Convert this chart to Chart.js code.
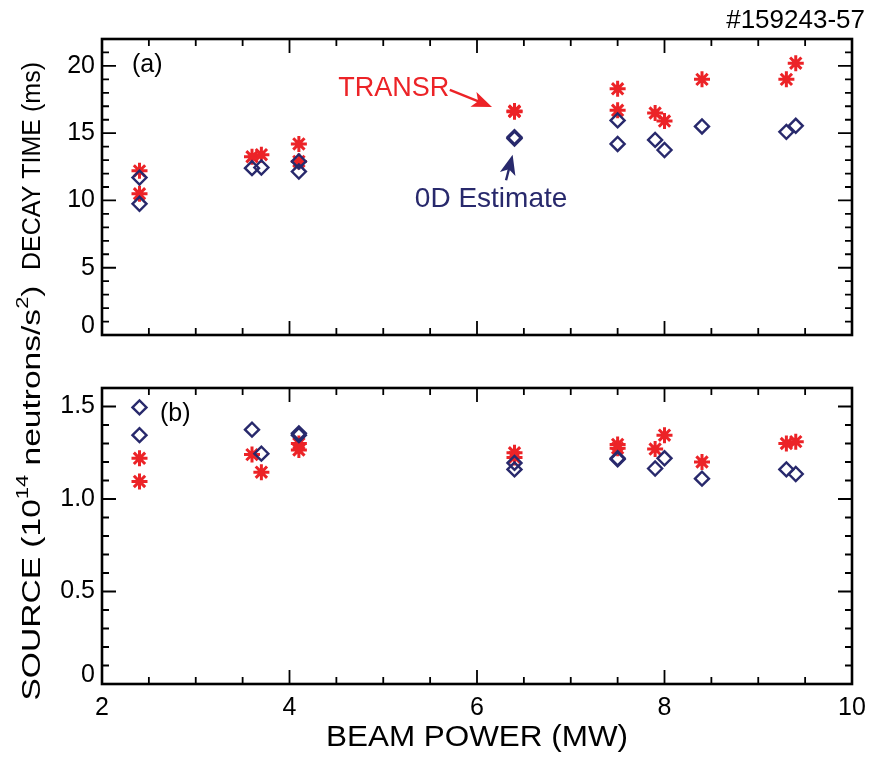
<!DOCTYPE html>
<html>
<head>
<meta charset="utf-8">
<script src="https://cdn.jsdelivr.net/npm/chart.js@4.4.1/dist/chart.umd.min.js"></script>
<style>
  body { margin: 0; background: #fff; }
  #wrap { position: relative; width: 869px; height: 757px; }
  canvas { position: absolute; left: 0; }
</style>
</head>
<body>
<div id="wrap">
  <canvas id="decay-chart" width="869" height="370" style="top:0px"></canvas>
  <canvas id="source-chart" width="869" height="507" style="top:250px"></canvas>
</div>
<script>
// beam power of each shot (MW)
const beamPower = [2.4, 2.4, 3.6, 3.7, 4.1, 4.1, 6.4, 6.4, 7.5, 7.5, 7.9, 8.0, 8.4, 9.3, 9.4];
// (a) decay time (ms)
const decayTransp = [12.2, 10.5, 13.25, 13.4, 14.2, 12.9, 16.6, 16.65, 18.3, 16.7, 16.5, 15.9, 19.0, 19.0, 20.2];
const decay0D = [11.7, 9.75, 12.4, 12.45, 12.9, 12.15, 14.6, 14.7, 15.95, 14.2, 14.5, 13.75, 15.5, 15.1, 15.55];
// (b) source (1e14 neutrons/s^2)
const sourceTransp = [1.22, 1.095, 1.24, 1.145, 1.30, 1.265, 1.25, 1.225, 1.295, 1.275, 1.27, 1.345, 1.2, 1.30, 1.31];
const source0D = [1.495, 1.345, 1.375, 1.245, 1.355, 1.345, 1.195, 1.16, 1.22, 1.215, 1.165, 1.22, 1.11, 1.16, 1.135];

const xTicks = [2, 4, 6, 8, 10];
const decayTicks = [0, 5, 10, 15, 20];
const sourceTicks = [0, 0.5, 1.0, 1.5];

const RED = "#ec2327";
const NAVY = "#28296c";
const FONT = "'Liberation Sans', Arial, Helvetica, sans-serif";

function pts(xs, ys) {
  return xs.map(function (x, i) { return { x: x, y: ys[i] }; });
}

function starSet(data) {
  return { data: data, pointStyle: "star", radius: 8, borderWidth: 3,
    borderColor: RED, backgroundColor: RED, order: 2 };
}
function diamondSet(data) {
  return { data: data, pointStyle: "rectRot", radius: 7, borderWidth: 2.4,
    borderColor: NAVY, backgroundColor: "rgba(0,0,0,0)", order: 1 };
}

// box, inward ticks on all four sides and the tick labels
const framePlugin = {
  id: "frame",
  afterDatasetsDraw(chart, args, opts) {
    const ctx = chart.ctx, a = chart.chartArea;
    const x = chart.scales.x, y = chart.scales.y;
    ctx.save();
    ctx.strokeStyle = "#000";
    ctx.lineWidth = 1.8;
    ctx.beginPath();
    for (let v = x.min; v <= x.max + 1e-9; v += opts.xMinor) {
      const px = x.getPixelForValue(v);
      const len = xTicks.some(t => Math.abs(t - v) < 1e-6) ? 14 : 7;
      ctx.moveTo(px, a.bottom); ctx.lineTo(px, a.bottom - len);
      ctx.moveTo(px, a.top); ctx.lineTo(px, a.top + len);
    }
    for (let v = y.min; v <= y.max + 1e-9; v += opts.yMinor) {
      const py = y.getPixelForValue(v);
      const len = opts.yMajor.some(t => Math.abs(t - v) < 1e-6) ? 14 : 7;
      ctx.moveTo(a.left, py); ctx.lineTo(a.left + len, py);
      ctx.moveTo(a.right, py); ctx.lineTo(a.right - len, py);
    }
    ctx.stroke();
    ctx.lineWidth = 2.6;
    ctx.strokeRect(a.left, a.top, a.right - a.left, a.bottom - a.top);

    ctx.fillStyle = "#000";
    ctx.font = "25px " + FONT;
    ctx.textAlign = "right";
    ctx.textBaseline = "middle";
    opts.yMajor.forEach(function (v) {
      const py = Math.min(y.getPixelForValue(v), a.bottom - 9);
      ctx.fillText(v === 0 ? "0" : opts.yFmt(v), a.left - 7, py);
    });
    if (opts.showX) {
      ctx.textAlign = "center";
      xTicks.forEach(function (v) {
        ctx.fillText(String(v), x.getPixelForValue(v), a.bottom + 24);
      });
    }
    ctx.restore();
  }
};

// rotated axis title, parts may be superscripts, stretched to a given length
function drawVTitle(ctx, parts, cx, cy, len) {
  ctx.save();
  const base = "26px " + FONT, sup = "17px " + FONT;
  let total = 0;
  parts.forEach(function (p) { ctx.font = p.sup ? sup : base; p.w = ctx.measureText(p.t).width; total += p.w; });
  ctx.translate(cx, cy);
  ctx.rotate(-Math.PI / 2);
  ctx.scale(len / total, 1);
  ctx.fillStyle = "#000";
  ctx.textBaseline = "middle";
  ctx.textAlign = "left";
  let pos = -total / 2;
  parts.forEach(function (p) {
    ctx.font = p.sup ? sup : base;
    ctx.fillText(p.t, pos, p.sup ? -10 : 0);
    pos += p.w;
  });
  ctx.restore();
}

function drawArrow(ctx, x1, y1, x2, y2, color) {
  const ang = Math.atan2(y2 - y1, x2 - x1), hl = 20, hw = 8;
  const bx = x2 - hl * Math.cos(ang), by = y2 - hl * Math.sin(ang);
  ctx.save();
  ctx.strokeStyle = color; ctx.fillStyle = color; ctx.lineWidth = 2.4;
  ctx.beginPath(); ctx.moveTo(x1, y1); ctx.lineTo(bx + 6 * Math.cos(ang), by + 6 * Math.sin(ang)); ctx.stroke();
  ctx.beginPath();
  ctx.moveTo(x2, y2);
  ctx.lineTo(bx - hw * Math.sin(ang), by + hw * Math.cos(ang));
  ctx.lineTo(bx + 5 * Math.cos(ang), by + 5 * Math.sin(ang));
  ctx.lineTo(bx + hw * Math.sin(ang), by - hw * Math.cos(ang));
  ctx.closePath(); ctx.fill();
  ctx.restore();
}

const decayText = {
  id: "decayText",
  afterDraw(chart) {
    const ctx = chart.ctx, a = chart.chartArea;
    const x = chart.scales.x, y = chart.scales.y;
    drawVTitle(ctx, [{ t: "DECAY TIME (ms)" }], 33, 166, 208);
    ctx.save();
    ctx.fillStyle = "#000";
    ctx.font = "26px " + FONT;
    ctx.textAlign = "right"; ctx.textBaseline = "alphabetic";
    ctx.fillText("#159243-57", 865, 28);
    ctx.font = "25px " + FONT;
    ctx.textAlign = "left"; ctx.textBaseline = "middle";
    ctx.fillText("(a)", a.left + 30, a.top + 26);
    ctx.fillStyle = RED;
    ctx.font = "27px " + FONT;
    ctx.fillText("TRANSR", x.getPixelForValue(4.52), y.getPixelForValue(18.3));
    ctx.fillStyle = NAVY;
    ctx.font = "28px " + FONT;
    ctx.textAlign = "center";
    ctx.fillText("0D Estimate", x.getPixelForValue(6.15), y.getPixelForValue(10.1));
    ctx.restore();
    drawArrow(ctx, x.getPixelForValue(5.71), y.getPixelForValue(18.22),
      x.getPixelForValue(6.16), y.getPixelForValue(16.95), RED);
    drawArrow(ctx, x.getPixelForValue(6.31), y.getPixelForValue(11.5),
      x.getPixelForValue(6.38), y.getPixelForValue(13.4), NAVY);
  }
};

const sourceText = {
  id: "sourceText",
  afterDraw(chart) {
    const ctx = chart.ctx, a = chart.chartArea;
    drawVTitle(ctx, [
      { t: "SOURCE (10" }, { t: "14", sup: true }, { t: " neutrons/s" }, { t: "2", sup: true }, { t: ")" }
    ], 33, 243, 415);
    ctx.save();
    ctx.fillStyle = "#000";
    ctx.font = "25px " + FONT;
    ctx.textAlign = "left"; ctx.textBaseline = "middle";
    ctx.fillText("(b)", a.left + 58, a.top + 26);
    ctx.restore();
    // x axis title, stretched to the reference width
    ctx.save();
    ctx.font = "30px " + FONT;
    const t = "BEAM POWER (MW)", w = ctx.measureText(t).width;
    ctx.translate((a.left + a.right) / 2, 488);
    ctx.scale(302 / w, 1);
    ctx.fillStyle = "#000"; ctx.textAlign = "center"; ctx.textBaseline = "middle";
    ctx.fillText(t, 0, 0);
    ctx.restore();
  }
};

function chartConfig(datasets, yMin, yMax, yTickList, yMinor, yFmt, topPad, xHeight, showX, extra) {
  return {
    type: "scatter",
    data: { datasets: datasets },
    options: {
      responsive: false,
      animation: false,
      events: [],
      layout: { padding: { top: topPad, right: 17, left: 0, bottom: 0 } },
      plugins: {
        legend: { display: false },
        tooltip: { enabled: false },
        frame: { xMinor: 0.5, yMinor: yMinor, yMajor: yTickList, yFmt: yFmt, showX: showX }
      },
      scales: {
        x: {
          type: "linear", min: 2, max: 10,
          grid: { display: false, drawTicks: false },
          border: { display: false },
          ticks: { display: false },
          afterFit: function (s) { s.height = xHeight; }
        },
        y: {
          type: "linear", min: yMin, max: yMax,
          grid: { display: false, drawTicks: false },
          border: { display: false },
          ticks: { display: false },
          afterFit: function (s) { s.width = 102; }
        }
      }
    },
    plugins: [framePlugin, extra]
  };
}

new Chart(document.getElementById("decay-chart"), chartConfig(
  [diamondSet(pts(beamPower, decay0D)), starSet(pts(beamPower, decayTransp))],
  0, 22, decayTicks, 1, function (v) { return String(v); }, 39, 35, false, decayText));

new Chart(document.getElementById("source-chart"), chartConfig(
  [diamondSet(pts(beamPower, source0D)), starSet(pts(beamPower, sourceTransp))],
  0, 1.6, sourceTicks, 0.1, function (v) { return v.toFixed(1); }, 138, 73, true, sourceText));
</script>
</body>
</html>
